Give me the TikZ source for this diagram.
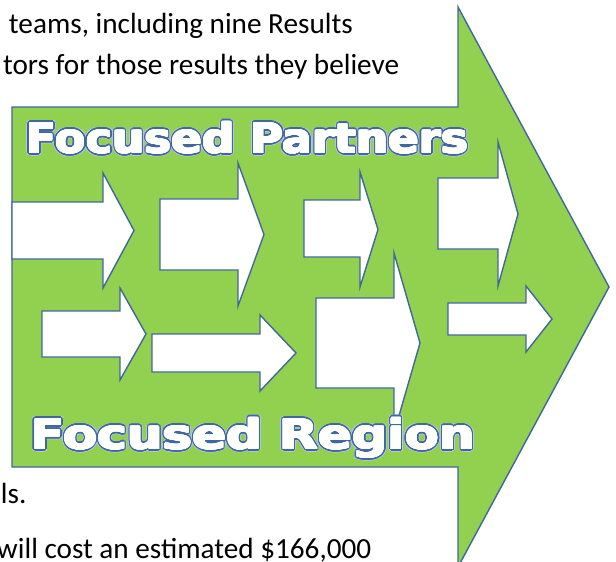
\documentclass[tikz,border=0pt]{standalone}
\usepackage{fontspec}
\setmainfont{Carlito}
\newfontfamily\wafont{DejaVu Sans}
\usetikzlibrary{calc}
\definecolor{argreen}{HTML}{92D050}
\definecolor{arblue}{HTML}{41679F}
\definecolor{halo}{HTML}{B4C7E7}
\tikzset{
  bigarrow/.style={fill=argreen, draw=arblue, line width=1.4pt, line join=miter},
  smallarrow/.style={fill=white, draw=arblue, line width=1.4pt, line join=miter},
  bodytext/.style={anchor=base west, inner sep=0pt, outer sep=0pt, font=\fontsize{29.2}{39}\selectfont, text=black},
  watext/.style={anchor=base west, inner sep=0pt, outer sep=0pt, font=\wafont\bfseries\fontsize{41}{48}\selectfont}
}
% #1 left, #2 shaft top, #3 shaft bottom, #4 shaft right, #5 head top, #6 head bottom, #7 tip x
\newcommand{\blockarrow}[7]{%
  \draw[smallarrow] (#1,#2) -- (#4,#2) -- (#4,#5) -- (#7,{(#5+#6)/2}) -- (#4,#6) -- (#4,#3) -- (#1,#3) -- cycle;}
% #1 name, #2 x, #3 y, #4 xscale, #5 text
\newcommand{\wordart}[5]{%
  \coordinate (#1) at (#2,#3);
  \foreach \ang in {0,22.5,...,337.5}
    \node[watext, text=halo] at ($(#1)+(\ang:3.0)$) {\scalebox{#4}[1]{#5}};
  \foreach \ang in {0,15,...,345}
    \node[watext, text=arblue] at ($(#1)+(\ang:2.1)$) {\scalebox{#4}[1]{#5}};
  \foreach \ang in {0,30,...,330}
    \node[watext, text=white] at ($(#1)+(\ang:0.9)$) {\scalebox{#4}[1]{#5}};
  \node[watext, text=white] (#1text) at (#1) {\scalebox{#4}[1]{#5}};}
\begin{document}
\begin{tikzpicture}[x=1pt,y=-1pt]
\useasboundingbox (0,0) rectangle (616,562);
\clip (0,0) rectangle (616,562);
\fill[white] (0,0) rectangle (616,562);
% body text
\node[bodytext] (t1) at (9,33) {teams, including nine Results};
\node[bodytext] (t2) at (3,74) {tors for those results they believe};
\node[bodytext] (t3) at (1,503) {ls.};
\node[bodytext] (t4) at (-3,558) {will cost an estimated \$166,000};
% big arrow
\draw[bigarrow] (12,107) -- (458,107) -- (458,7) -- (609,287) -- (458,567) -- (458,467) -- (12,467) -- cycle;
% small arrows, top row
\blockarrow{12}{202}{259}{103}{173}{288}{134}
\blockarrow{160}{199}{270}{238}{163}{306}{264}
\blockarrow{304}{200}{257}{360}{172}{287}{378}
\blockarrow{438}{178}{249}{498}{142}{286}{518}
% small arrows, bottom row
\blockarrow{42}{311}{357}{120}{288}{380}{146}
\blockarrow{152}{334}{372}{260}{315}{391}{296}
\blockarrow{316}{298}{388}{394}{253}{433}{420}
\blockarrow{448}{303}{335}{526}{286}{352}{552}
% word art labels
\wordart{fp}{26}{153}{1.10}{Focused Partners}
\wordart{fr}{31}{449}{1.22}{Focused Region}
\end{tikzpicture}
\end{document}
